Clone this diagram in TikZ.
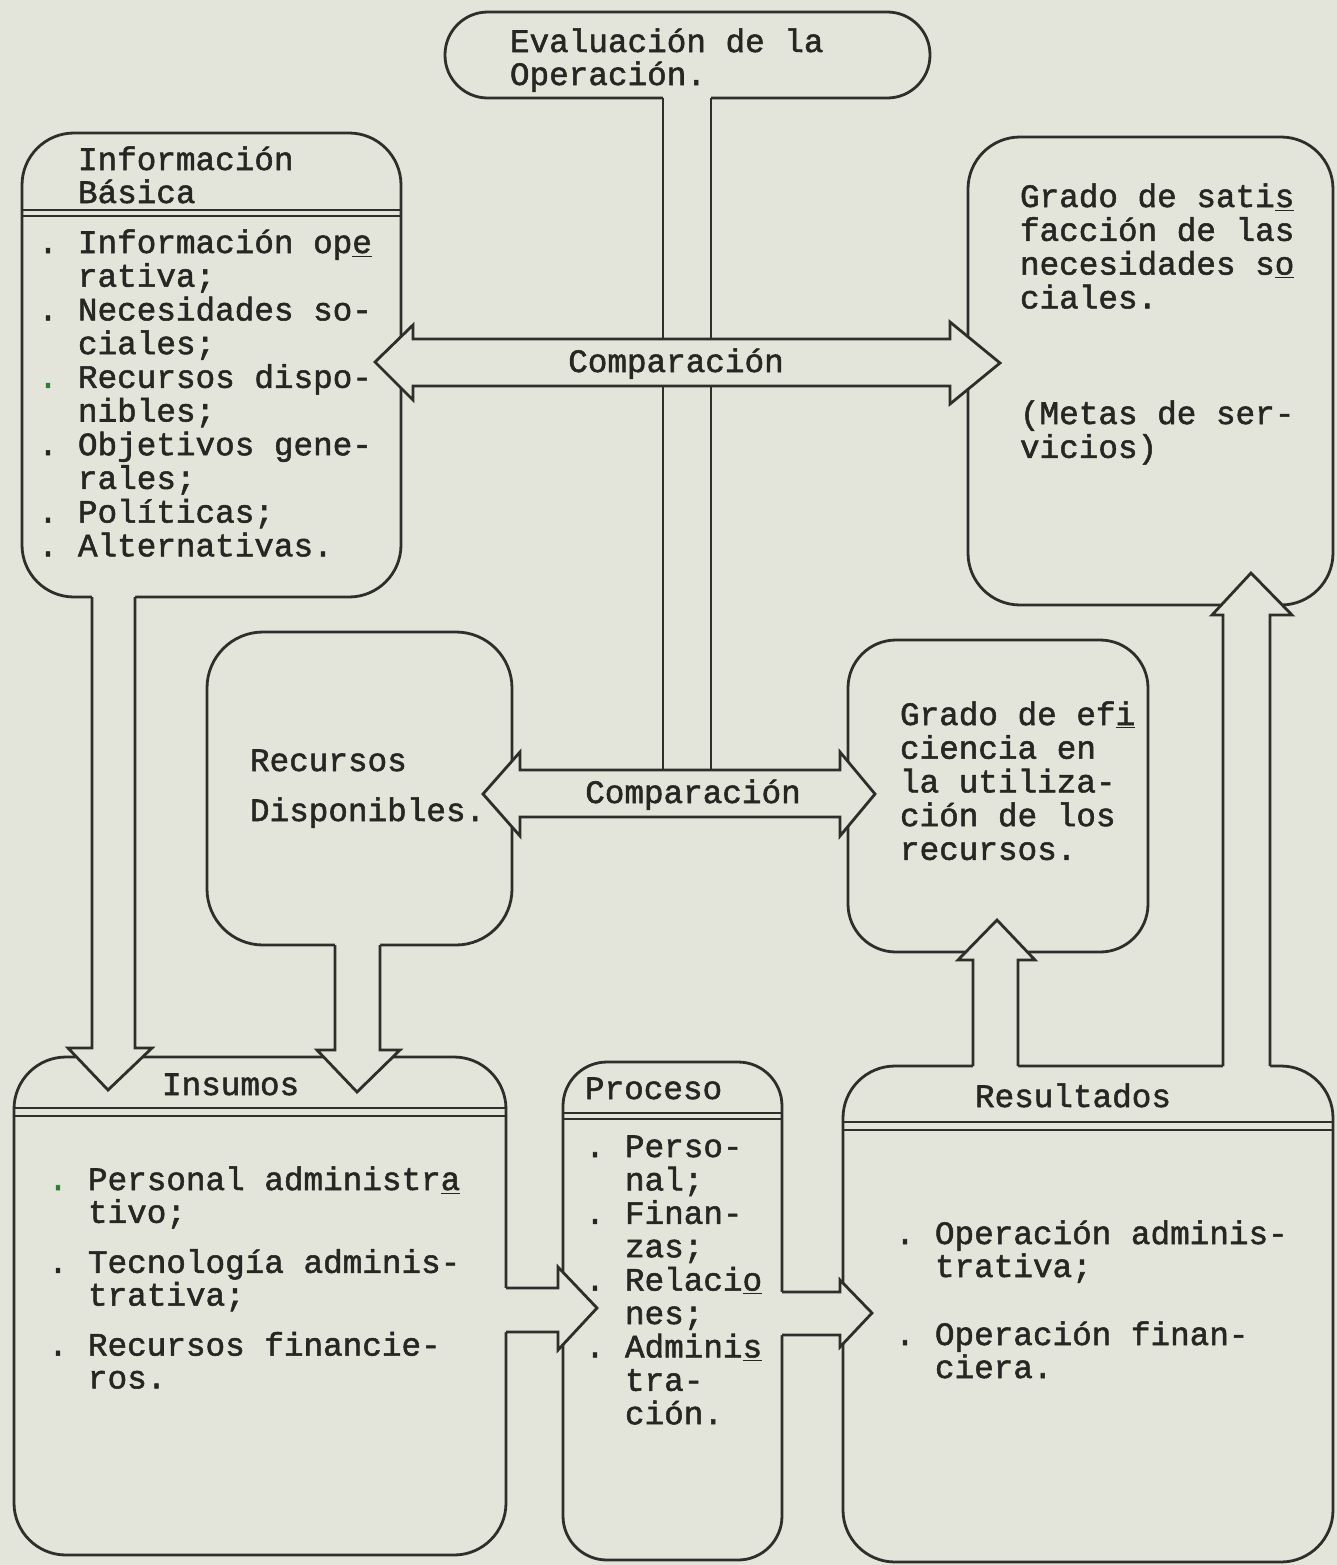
\documentclass[tikz,border=0pt]{standalone}
\usepackage{fontspec}
\newfontfamily\tw{Liberation Mono}[FakeBold=1.6]
\usetikzlibrary{calc}
\definecolor{paper}{HTML}{E4E5DA}
\definecolor{ink}{HTML}{2E2E2A}
\definecolor{inktext}{HTML}{262622}
\definecolor{dotgreen}{HTML}{2E7D32}
\newcommand\bul{\leavevmode\llap{\makebox[0pt]{.}\hspace{15pt}}}
\newcommand\gbul{\leavevmode\llap{\makebox[0pt]{\textcolor{dotgreen}{.}}\hspace{15pt}}}
\newcommand\tblk[2]{\parbox[t]{260pt}{\baselineskip=#1\relax\lineskiplimit=-40pt\relax\lineskip=0pt\relax #2}}
\newcommand\boxnode[6]{\node[box, rounded corners=#6, minimum width={(#4-#2)*0.5pt}, minimum height={(#5-#3)*0.5pt}] (#1) at ({(#2+#4)/2},{(#3+#5)/2}) {};}
\begin{document}
\begin{tikzpicture}[x=0.5pt,y=-0.5pt,
  box/.style={draw=ink, fill=paper, line width=1.4pt, inner sep=0pt, outer sep=0pt},
  blk/.style={draw=ink, fill=paper, line width=1.4pt, line join=miter},
  ln/.style={draw=ink, line width=1.4pt, line join=miter},
  txt/.style={anchor=base west, inner sep=0pt, outer sep=0pt, font={\tw\fontsize{16.33pt}{16.85pt}\selectfont}, text=inktext},
  ctxt/.style={txt, anchor=base}]
\fill[paper] (0,0) rectangle (1337,1565);
\useasboundingbox (0,0) rectangle (1337,1565);

% boxes
\boxnode{eval}{445}{12}{930}{98}{21.4pt}
\boxnode{info}{22}{133}{401}{597}{26pt}
\boxnode{satis}{968}{137}{1333}{605}{26pt}
\boxnode{recd}{207}{632}{512}{945}{28pt}
\boxnode{efic}{848}{640}{1148}{952}{24pt}
\boxnode{insu}{14}{1057}{506}{1555}{26pt}
\boxnode{proc}{563}{1062}{782}{1560}{22pt}
\boxnode{resu}{843}{1066}{1333}{1562}{26pt}

% header dividers
\draw[ln] (info.west |- 0,210) -- (info.east |- 0,210) (info.west |- 0,216) -- (info.east |- 0,216);
\draw[ln] (insu.west |- 0,1108) -- (insu.east |- 0,1108) (insu.west |- 0,1116) -- (insu.east |- 0,1116);
\draw[ln] (proc.west |- 0,1113) -- (proc.east |- 0,1113) (proc.west |- 0,1119) -- (proc.east |- 0,1119);
\draw[ln] (resu.west |- 0,1122) -- (resu.east |- 0,1122) (resu.west |- 0,1130) -- (resu.east |- 0,1130);

% stem from evaluation
\fill[paper] (663,92) rectangle (711,339);
\draw[ln] (663,0 |- eval.south) -- (663,339) (711,0 |- eval.south) -- (711,339);
\draw[ln] (663,386) -- (663,770) (711,386) -- (711,770);

% double arrows (Comparacion)
\draw[blk] (413,339) -- (950,339) -- (950,322) -- (1000,363) -- (950,404) -- (950,386) -- (413,386) -- (413,400) -- (375,362) -- (413,325) -- cycle;
\draw[blk] (520,770) -- (840,770) -- (840,752) -- (875,794) -- (840,836) -- (840,817) -- (520,817) -- (520,836) -- (483,794) -- (520,752) -- cycle;

% A1 info -> insumos
\fill[paper] (92,590) -- (92,1048) -- (68,1048) -- (108,1090) -- (152,1048) -- (135,1048) -- (135,590) -- cycle;
\draw[ln] (92,0 |- info.south) -- (92,1048) -- (68,1048) -- (108,1090) -- (152,1048) -- (135,1048) -- (135,0 |- info.south);
% A2 recursos -> insumos
\fill[paper] (335,938) -- (335,1050) -- (317,1050) -- (357,1092) -- (400,1050) -- (380,1050) -- (380,938) -- cycle;
\draw[ln] (335,0 |- recd.south) -- (335,1050) -- (317,1050) -- (357,1092) -- (400,1050) -- (380,1050) -- (380,0 |- recd.south);
% A3 insumos -> proceso
\fill[paper] (500,1288) -- (558,1288) -- (558,1267) -- (597,1308) -- (558,1350) -- (558,1332) -- (500,1332) -- cycle;
\draw[ln] (insu.east |- 0,1288) -- (558,1288) -- (558,1267) -- (597,1308) -- (558,1350) -- (558,1332) -- (insu.east |- 0,1332);
% A4 proceso -> resultados
\fill[paper] (776,1292) -- (840,1292) -- (840,1280) -- (872,1313) -- (840,1347) -- (840,1335) -- (776,1335) -- cycle;
\draw[ln] (proc.east |- 0,1292) -- (840,1292) -- (840,1280) -- (872,1313) -- (840,1347) -- (840,1335) -- (proc.east |- 0,1335);
% A5 resultados -> eficiencia
\fill[paper] (973,1072) -- (973,960) -- (958,960) -- (997,920) -- (1035,960) -- (1018,960) -- (1018,1072) -- cycle;
\draw[ln] (973,0 |- resu.north) -- (973,960) -- (958,960) -- (997,920) -- (1035,960) -- (1018,960) -- (1018,0 |- resu.north);
% A6 resultados -> satisfaccion
\fill[paper] (1223,1072) -- (1223,615) -- (1212,615) -- (1251,573) -- (1292,615) -- (1270,615) -- (1270,1072) -- cycle;
\draw[ln] (1223,0 |- resu.north) -- (1223,615) -- (1212,615) -- (1251,573) -- (1292,615) -- (1270,615) -- (1270,0 |- resu.north);

% texts
\node[txt] (t-eval) at (510,52) {\tblk{16.5pt}{Evaluación de la\\Operación.}};
\node[txt] (t-info) at (78,170) {\tblk{16.5pt}{Información\\Básica}};
\node[txt] (l-info) at (78,253) {\tblk{16.85pt}{\bul Información op\underline{e}\\rativa;\\\bul Necesidades so-\\ciales;\\\gbul Recursos dispo-\\nibles;\\\bul Objetivos gene-\\rales;\\\bul Políticas;\\\bul Alternativas.}};
\node[txt] (t-satis) at (1020,207) {\tblk{16.9pt}{Grado de sati\underline{s}\\facción de las\\necesidades s\underline{o}\\ciales.}};
\node[txt] (t-metas) at (1020,424) {\tblk{16.9pt}{(Metas de ser-\\vicios)}};
\node[ctxt] (c-up) at (676,372) {Comparación};
\node[ctxt] (c-low) at (693,803) {Comparación};
\node[txt] (t-recd) at (250,771) {\tblk{25pt}{Recursos\\Disponibles.}};
\node[txt] (t-efic) at (900,725) {\tblk{16.85pt}{Grado de ef\underline{i}\\ciencia en\\la utiliza-\\ción de los\\recursos.}};
\node[txt] (t-insu) at (162,1095) {Insumos};
\node[txt] (l-insu) at (88,1190) {\tblk{16.4pt}{\gbul Personal administr\underline{a}\\tivo;\\[8.6pt]\bul Tecnología adminis-\\trativa;\\[8.6pt]\bul Recursos financie-\\ros.}};
\node[txt] (t-proc) at (585,1099) {Proceso};
\node[txt] (l-proc) at (625,1157) {\tblk{16.7pt}{\bul Perso-\\nal;\\\bul Finan-\\zas;\\\bul Relaci\underline{o}\\nes;\\\bul Admini\underline{s}\\tra-\\ción.}};
\node[txt] (t-resu) at (975,1107) {Resultados};
\node[txt] (l-resu) at (935,1244) {\tblk{16.5pt}{\bul Operación adminis-\\trativa;\\[17.5pt]\bul Operación finan-\\ciera.}};
\end{tikzpicture}
\end{document}
